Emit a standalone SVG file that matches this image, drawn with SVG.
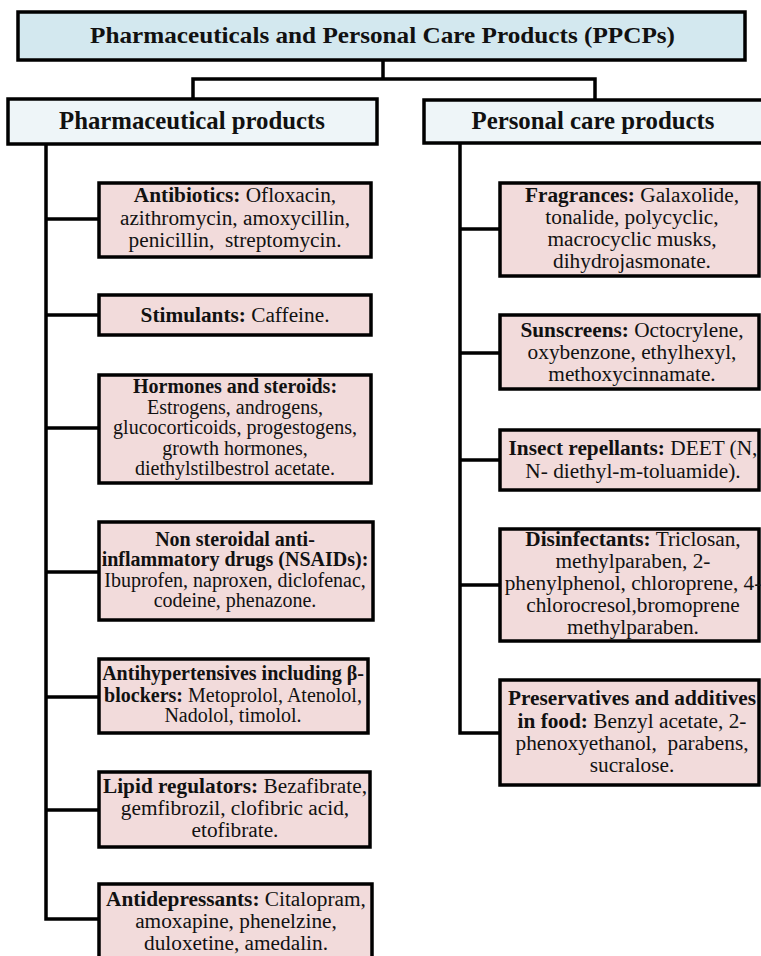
<svg xmlns="http://www.w3.org/2000/svg" width="761" height="956" viewBox="0 0 761 956">
  <style>
    .box { stroke: #000; stroke-width: 3.5; }
    .root { fill: #d3e8ef; }
    .head { fill: #eef5f8; }
    .leaf { fill: #f2dbdb; }
    .wire { fill: none; stroke: #000; stroke-width: 3.5; stroke-linejoin: miter; }
    text { font-family: "Liberation Serif", "Times New Roman", serif; fill: #111; text-anchor: middle; }
    .t1 { font-size: 24px; font-weight: bold; }
    .t2 { font-size: 24.5px; font-weight: bold; }
    .tx { font-size: 20px; }
    .tl { font-size: 21.3px; }
    .b { font-weight: bold; }
  </style>
  <rect width="761" height="956" fill="#fff"/>

  <!-- connectors -->
  <g id="connectors">
    <path class="wire" d="M383,60 V79 M193,99 V79 H595 V100"/>
    <path class="wire" d="M46,144 V919 H99"/>
    <path class="wire" d="M46,219 H99 M46,315 H99 M46,428 H99 M46,572 H99 M46,697 H99 M46,810 H99"/>
    <path class="wire" d="M460,143 V733 H500"/>
    <path class="wire" d="M460,229 H500 M460,353 H500 M460,460 H500 M460,585 H500"/>
  </g>

  <!-- root -->
  <g id="ppcps">
    <rect class="box root" x="18" y="12" width="727" height="48"/>
    <text class="t1" x="382.5" y="43" textLength="585" lengthAdjust="spacingAndGlyphs">Pharmaceuticals and Personal Care Products (PPCPs)</text>
  </g>

  <!-- category headers -->
  <g id="pharmaceutical-products">
    <rect class="box head" x="8" y="99" width="369" height="45"/>
    <text class="t2" x="192" y="129" textLength="266" lengthAdjust="spacingAndGlyphs">Pharmaceutical products</text>
  </g>
  <g id="personal-care-products">
    <rect class="box head" x="424" y="100" width="350" height="43"/>
    <text class="t2" x="593" y="129" textLength="243" lengthAdjust="spacingAndGlyphs">Personal care products</text>
  </g>

  <!-- pharmaceutical classes -->
  <g id="antibiotics">
    <rect class="box leaf" x="99" y="183" width="272" height="74"/>
    <text class="tl" x="235" y="202"><tspan class="b">Antibiotics:</tspan> Ofloxacin,</text>
    <text class="tl" x="235" y="225">azithromycin, amoxycillin,</text>
    <text class="tl" x="235" y="247">penicillin,&#160; streptomycin.</text>
  </g>
  <g id="stimulants">
    <rect class="box leaf" x="99" y="295" width="272" height="40"/>
    <text class="tl" x="235" y="322"><tspan class="b">Stimulants:</tspan> Caffeine.</text>
  </g>
  <g id="hormones">
    <rect class="box leaf" x="99" y="375" width="272" height="108"/>
    <text class="tx" x="235" y="393"><tspan class="b">Hormones and steroids:</tspan></text>
    <text class="tx" x="235" y="414">Estrogens, androgens,</text>
    <text class="tx" x="235" y="434">glucocorticoids, progestogens,</text>
    <text class="tx" x="235" y="455">growth hormones,</text>
    <text class="tx" x="235" y="475">diethylstilbestrol acetate.</text>
  </g>
  <g id="nsaids">
    <rect class="box leaf" x="99" y="522" width="274" height="98"/>
    <text class="tx" x="235" y="546"><tspan class="b">Non steroidal anti-</tspan></text>
    <text class="tx" x="235" y="566"><tspan class="b">inflammatory drugs (NSAIDs):</tspan></text>
    <text class="tx" x="235" y="587">Ibuprofen, naproxen, diclofenac,</text>
    <text class="tx" x="235" y="607">codeine, phenazone.</text>
  </g>
  <g id="antihypertensives">
    <rect class="box leaf" x="99" y="659" width="269" height="74"/>
    <text class="tx" x="233" y="680"><tspan class="b">Antihypertensives including β-</tspan></text>
    <text class="tx" x="233" y="702"><tspan class="b">blockers:</tspan> Metoprolol, Atenolol,</text>
    <text class="tx" x="233" y="722">Nadolol, timolol.</text>
  </g>
  <g id="lipid-regulators">
    <rect class="box leaf" x="99" y="772" width="271" height="75"/>
    <text class="tl" x="235" y="793"><tspan class="b">Lipid regulators:</tspan> Bezafibrate,</text>
    <text class="tl" x="235" y="815">gemfibrozil, clofibric acid,</text>
    <text class="tl" x="235" y="837">etofibrate.</text>
  </g>
  <g id="antidepressants">
    <rect class="box leaf" x="99" y="884" width="273" height="80"/>
    <text class="tl" x="236" y="906"><tspan class="b">Antidepressants:</tspan> Citalopram,</text>
    <text class="tl" x="236" y="928">amoxapine, phenelzine,</text>
    <text class="tl" x="236" y="950">duloxetine, amedalin.</text>
  </g>

  <!-- personal care classes -->
  <g id="fragrances">
    <rect class="box leaf" x="500" y="183" width="259" height="93"/>
    <text class="tl" x="632" y="202"><tspan class="b">Fragrances:</tspan> Galaxolide,</text>
    <text class="tl" x="632" y="224">tonalide, polycyclic,</text>
    <text class="tl" x="632" y="246">macrocyclic musks,</text>
    <text class="tl" x="632" y="268">dihydrojasmonate.</text>
  </g>
  <g id="sunscreens">
    <rect class="box leaf" x="500" y="315" width="259" height="74"/>
    <text class="tl" x="632" y="337"><tspan class="b">Sunscreens:</tspan> Octocrylene,</text>
    <text class="tl" x="632" y="359">oxybenzone, ethylhexyl,</text>
    <text class="tl" x="632" y="381">methoxycinnamate.</text>
  </g>
  <g id="insect-repellants">
    <rect class="box leaf" x="500" y="430" width="259" height="60"/>
    <text class="tl" x="633" y="455"><tspan class="b">Insect repellants:</tspan> DEET (N,</text>
    <text class="tl" x="633" y="478">N- diethyl-m-toluamide).</text>
  </g>
  <g id="disinfectants">
    <rect class="box leaf" x="500" y="529" width="259" height="112"/>
    <text class="tl" x="633" y="546"><tspan class="b">Disinfectants:</tspan> Triclosan,</text>
    <text class="tl" x="633" y="568">methylparaben, 2-</text>
    <text class="tl" x="633" y="590">phenylphenol, chloroprene, 4-</text>
    <text class="tl" x="633" y="612">chlorocresol,bromoprene</text>
    <text class="tl" x="633" y="634">methylparaben.</text>
  </g>
  <g id="preservatives">
    <rect class="box leaf" x="500" y="680" width="259" height="105"/>
    <text class="tl" x="632" y="705"><tspan class="b">Preservatives and additives</tspan></text>
    <text class="tl" x="632" y="728"><tspan class="b">in food:</tspan> Benzyl acetate, 2-</text>
    <text class="tl" x="632" y="750">phenoxyethanol,&#160; parabens,</text>
    <text class="tl" x="632" y="772">sucralose.</text>
  </g>
</svg>
